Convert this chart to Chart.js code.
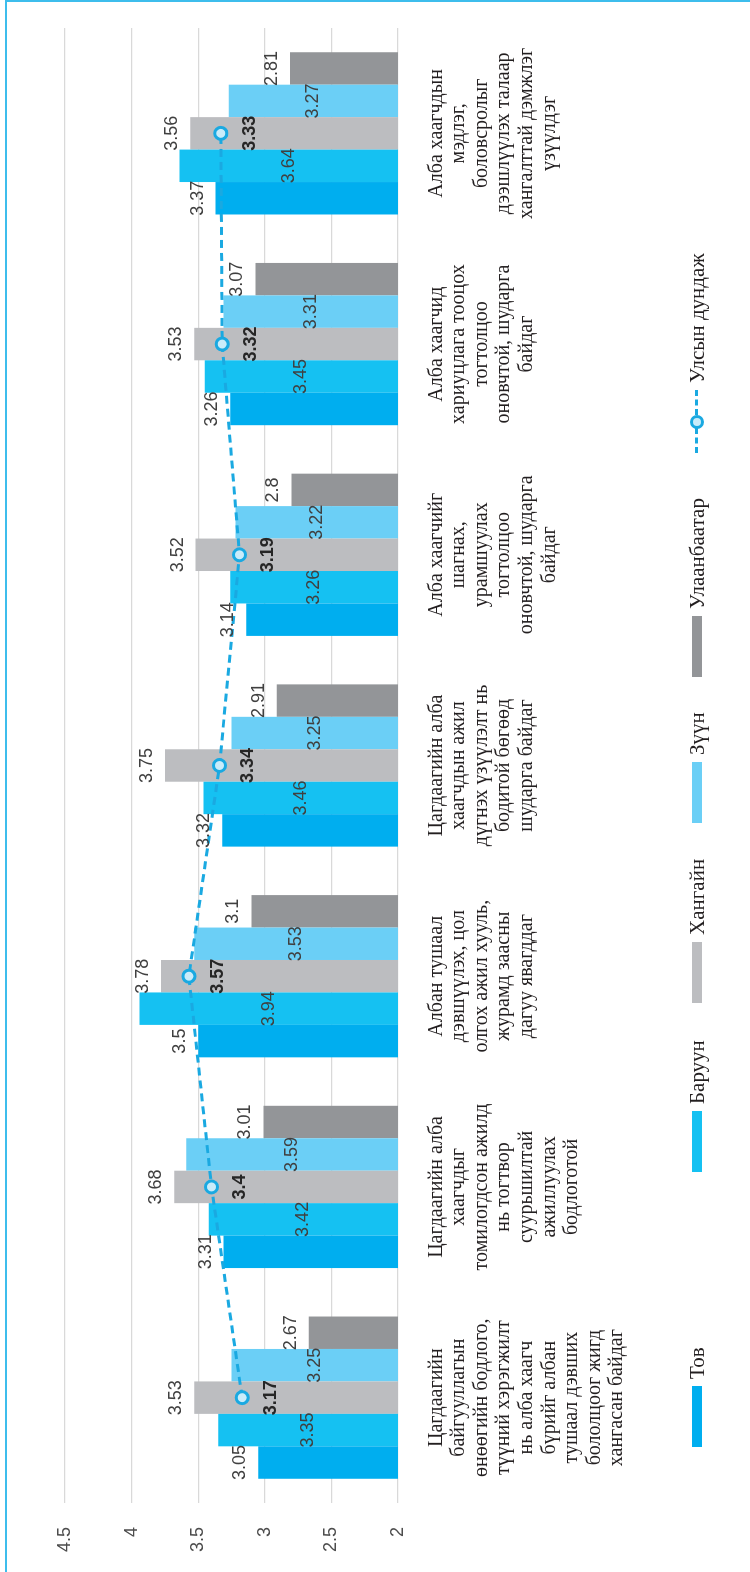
<!DOCTYPE html>
<html>
<head>
<meta charset="utf-8">
<script src="https://cdn.jsdelivr.net/npm/chart.js@4.4.0/dist/chart.umd.min.js"></script>
<style>
    html, body { margin: 0; padding: 0; background: #fff; }
    body { width: 750px; height: 1572px; position: relative; overflow: hidden; }
    /* the chart is built upright and turned a quarter turn to the left */
    #wrap {
        position: absolute; left: 0; top: 0; width: 1572px; height: 750px;
        transform-origin: 0 0; transform: translateY(1572px) rotate(-90deg);
    }
    #frame {
        position: absolute; left: 5px; top: 0; width: 745px; height: 1572px; box-sizing: border-box;
        border-left: 2px solid #3dbdec; border-top: 2px solid #3dbdec; pointer-events: none;
    }
    .legend-item {
        position: absolute; top: 685px; height: 24px; display: flex; align-items: center;
        font-family: "Liberation Serif", serif; font-size: 21px; color: #231f20; white-space: nowrap;
    }
    .swatch { width: 61px; height: 10px; margin-right: 7px; }
    .line-sym { position: relative; width: 63px; height: 14px; margin-right: 7px; }
    .line-sym .dash { position: absolute; left: 0; right: 0; top: 5px; border-top: 3px dashed #1aa9e1; }
    .line-sym .dot {
        position: absolute; left: 24px; top: 0px; width: 8px; height: 8px; border-radius: 50%;
        border: 3px solid #1aa9e1; background: #c9ecfa;
    }
</style>
</head>
<body>
<div id="wrap">
    <canvas id="chart" width="1572" height="750"></canvas>
    <div id="legend"></div>
</div>
<div id="frame"></div>
<script>
// Categories (multi-line, as wrapped in the original)
const categories = [
    ['Цагдаагийн', 'байгууллагын', 'өнөөгийн бодлого,', 'түүний хэрэгжилт', 'нь алба хаагч', 'бүрийг албан', 'тушаал дэвших', 'бололцоог жигд', 'хангасан байдаг'],
    ['Цагдаагийн алба', 'хаагчдыг', 'томилогдсон ажилд', 'нь тогтвор', 'суурьшилтай', 'ажиллуулах', 'бодлоготой'],
    ['Албан тушаал', 'дэвшүүлэх, цол', 'олгох ажил хууль,', 'журамд заасны', 'дагуу явагддаг'],
    ['Цагдаагийн алба', 'хаагчдын ажил', 'дүгнэх үзүүлэлт нь', 'бодитой бөгөөд', 'шударга байдаг'],
    ['Алба хаагчийг', 'шагнах,', 'урамшуулах', 'тогтолцоо', 'оновчтой, шударга', 'байдаг'],
    ['Алба хаагчид', 'хариуцлага тооцох', 'тогтолцоо', 'оновчтой, шударга', 'байдаг'],
    ['Алба хаагчдын', 'мэдлэг,', 'боловсролыг', 'дээшлүүлэх талаар', 'хангалттай дэмжлэг', 'үзүүлдэг']
];

// Series values
const tov      = [3.05, 3.31, 3.5, 3.32, 3.14, 3.26, 3.37];
const baruun   = [3.35, 3.42, 3.94, 3.46, 3.26, 3.45, 3.64];
const khangai  = [3.53, 3.68, 3.78, 3.75, 3.52, 3.53, 3.56];
const zuun     = [3.25, 3.59, 3.53, 3.25, 3.22, 3.31, 3.27];
const ulaanbaatar = [2.67, 3.01, 3.1, 2.91, 2.8, 3.07, 2.81];
const national = [3.17, 3.4, 3.57, 3.34, 3.19, 3.32, 3.33];

// Value axis ticks
const valueTicks = [2, 2.5, 3, 3.5, 4, 4.5];

const seriesNames = ['Тов', 'Баруун', 'Хангайн', 'Зүүн', 'Улаанбаатар'];
const seriesColors = ['#00aeef', '#15c1f2', '#bcbdc0', '#6bcff6', '#939598'];
const lineName = 'Улсын дундаж';
const lineColor = '#1aa9e1';

// where each label sits: outside end of bar or bar centre
const labelPos = ['end', 'center', 'end', 'center', 'end'];

// Legend (HTML, upright coordinates before rotation)
const legendLeft = [125, 400, 569, 749, 895, 1119];
const legend = document.getElementById('legend');
seriesNames.forEach((name, i) => {
    const item = document.createElement('div');
    item.className = 'legend-item';
    item.style.left = legendLeft[i] + 'px';
    item.innerHTML = `<span class="swatch" style="background:${seriesColors[i]}"></span>${name}`;
    legend.appendChild(item);
});
const lineItem = document.createElement('div');
lineItem.className = 'legend-item';
lineItem.style.left = legendLeft[5] + 'px';
lineItem.innerHTML = `<span class="line-sym"><span class="dash"></span><span class="dot"></span></span>${lineName}`;
legend.appendChild(lineItem);

// Value labels drawn on top of the marks
const valueLabels = {
    id: 'valueLabels',
    afterDatasetsDraw(chart) {
        const ctx = chart.ctx;
        const yScale = chart.scales.y;
        const basePx = yScale.getPixelForValue(yScale.min);
        ctx.save();
        ctx.textAlign = 'center';
        chart.data.datasets.forEach((ds, i) => {
            const meta = chart.getDatasetMeta(i);
            meta.data.forEach((el, j) => {
                const v = ds.data[j];
                if (ds.type === 'line') {
                    ctx.font = 'bold 18px "Liberation Sans", sans-serif';
                    ctx.fillStyle = '#262626';
                    ctx.textBaseline = 'middle';
                    ctx.fillText(String(v), el.x, el.y + 29);
                } else if (ds.labelPos === 'end') {
                    ctx.font = '18px "Liberation Sans", sans-serif';
                    ctx.fillStyle = '#404040';
                    ctx.textBaseline = 'alphabetic';
                    ctx.fillText(String(v), el.x, el.y - 13);
                } else {
                    ctx.font = '18px "Liberation Sans", sans-serif';
                    ctx.fillStyle = '#404040';
                    ctx.textBaseline = 'middle';
                    ctx.fillText(String(v), el.x, (el.y + basePx) / 2);
                }
            });
        });
        ctx.restore();
    }
};

const barData = [tov, baruun, khangai, zuun, ulaanbaatar];
const datasets = [{
    type: 'line',
    label: lineName,
    data: national,
    order: 0,
    borderColor: lineColor,
    borderWidth: 3,
    borderDash: [8, 5],
    pointRadius: 6,
    pointBorderWidth: 3,
    pointBorderColor: lineColor,
    pointBackgroundColor: '#c9ecfa',
    fill: false,
    tension: 0
}];
barData.forEach((d, i) => {
    datasets.push({
        type: 'bar',
        label: seriesNames[i],
        data: d,
        order: 1,
        backgroundColor: seriesColors[i],
        borderWidth: 0,
        labelPos: labelPos[i]
    });
});

new Chart(document.getElementById('chart'), {
    type: 'bar',
    data: { labels: categories, datasets: datasets },
    options: {
        responsive: false,
        devicePixelRatio: 1,
        animation: false,
        categoryPercentage: 0.77,
        barPercentage: 1,
        layout: { padding: { top: 65, right: 28, left: 0, bottom: 0 } },
        scales: {
            x: {
                grid: { display: false },
                border: { display: false },
                ticks: {
                    padding: 19,
                    maxRotation: 0,
                    autoSkip: false,
                    color: '#231f20',
                    font: { family: '"Liberation Serif", serif', size: 20, lineHeight: 1.13 }
                },
                afterFit: s => { s.height = 352; }
            },
            y: {
                min: 2,
                max: 4.5,
                afterBuildTicks: s => { s.ticks = valueTicks.map(v => ({ value: v })); },
                grid: { color: '#d9d9d9', lineWidth: 1.3, drawTicks: false },
                border: { display: false },
                ticks: {
                    padding: 24,
                    color: '#4d4d4d',
                    font: { family: '"Liberation Sans", sans-serif', size: 18 },
                    callback: v => String(v)
                },
                afterFit: s => { s.width = 69; }
            }
        },
        plugins: {
            legend: { display: false },
            tooltip: { enabled: false }
        }
    },
    plugins: [valueLabels]
});
</script>
</body>
</html>
